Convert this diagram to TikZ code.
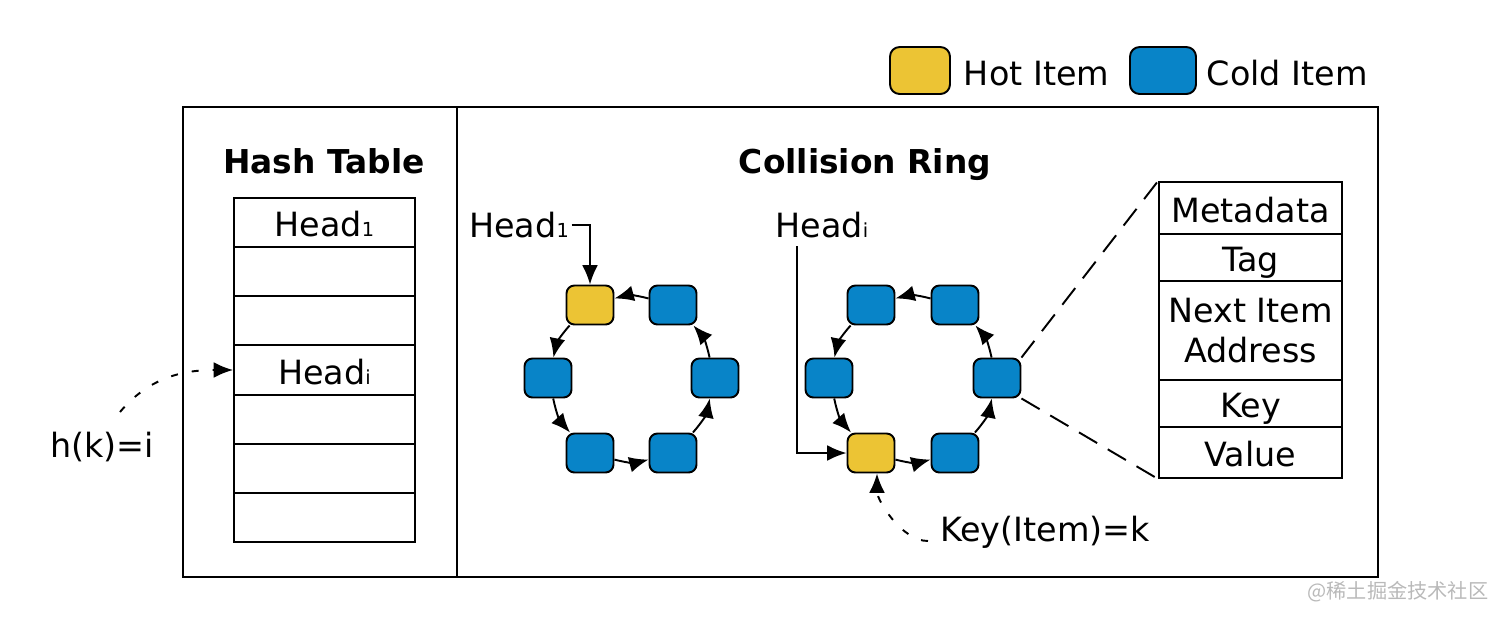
\documentclass[tikz,border=0pt]{standalone}
\usepackage{fontspec}
\setmainfont{DejaVu Sans}
\newfontfamily\cjkfont{Noto Sans CJK SC}
\usetikzlibrary{arrows.meta}
\definecolor{hotyellow}{RGB}{236,196,52}
\definecolor{coldblue}{RGB}{8,132,200}
\newcommand\figfont{\fontsize{19}{23}\selectfont}
\newcommand\hsub[1]{{\fontsize{11}{11}\selectfont #1}}
\tikzset{
  item/.style={draw, rounded corners=4.5pt, minimum width=0.94cm, minimum height=0.78cm, inner sep=0pt},
  hot/.style={item, fill=hotyellow},
  cold/.style={item, fill=coldblue},
  cell/.style={draw, inner sep=0pt, font=\figfont, align=center},
  onecell/.style={cell, text height=16pt, text depth=0pt},
  lbl/.style={anchor=base, font=\figfont, inner sep=1pt},
  paneltitle/.style={anchor=base, font=\bfseries\fontsize{18.7}{22}\selectfont},
  zoomdash/.style={dash pattern=on 12pt off 7pt},
  ptrdash/.style={dash pattern=on 4pt off 8pt}
}

\begin{document}
\begin{tikzpicture}[x=0.02cm, y=-0.02cm, line width=1.1pt, >={Latex[length=11pt,width=9pt]}]
\useasboundingbox (0,0) rectangle (1512,620);

\node[hot, minimum width=1.2cm, minimum height=0.94cm, rounded corners=5.5pt] (hotkey) at (920,70.5) {};
\node[anchor=base west, font=\figfont, inner sep=0pt] (hottxt) at (963,85) {Hot Item};
\node[cold, minimum width=1.32cm, minimum height=0.94cm, rounded corners=5.5pt] (coldkey) at (1163,70.5) {};
\node[anchor=base west, font=\figfont, inner sep=0pt] (coldtxt) at (1206,85) {Cold Item};

\draw (183,107) rectangle (1378,577);
\draw (457,107) -- (457,577);
\node[paneltitle] (httitle) at (324,173) {Hash Table};
\node[paneltitle] (crtitle) at (865,173) {Collision Ring};

\foreach \t [count=\i] in {Head\hsub{1},{},{},Head\hsub{i},{},{},{}}
  \node[onecell, minimum width=3.62cm, minimum height=0.983cm] (ht\i) at (324.5,{198+49.14*(\i-0.5)}) {\t};

\node[lbl] (hk) at (102,457) {h(k)=i};
\coordinate (hk0) at (120,412);
\draw[ptrdash,->] (hk0) to[out=50,in=180] (ht4.west);

\foreach \n/\x/\y/\s in {a1/590/305/hot, a2/673/305/cold, a3/715/378/cold, a4/673/453/cold, a5/590/453/cold, a6/548/378/cold,
                         b1/871/305/cold, b2/955/305/cold, b3/997/378/cold, b4/955/453/cold, b5/871/453/hot, b6/829/378/cold}
  \node[\s] (\n) at (\x,\y) {};
\foreach \p/\q in {a2/a1, a1/a6, a6/a5, a5/a4, a4/a3, a3/a2, b2/b1, b1/b6, b6/b5, b5/b4, b4/b3, b3/b2}
  \draw[->] (\p) to[bend right=15] (\q);

\node[lbl] (h1lbl) at (519,237) {Head\hsub{1}};
\draw[->] (h1lbl.east) -| (a1.north);
\node[lbl] (hilbl) at (822,237) {Head\hsub{i}};
\coordinate (hi0) at (797,246);
\draw[->] (hi0) |- (b5.west);

\node[lbl] (keylbl) at (1045,541) {Key(Item)=k};
\coordinate (key0) at (928,541);
\draw[ptrdash,->] (key0) to[out=180,in=-90,looseness=0.8] ([xshift=0.12cm]b5.south);

\foreach \n/\y/\h/\t in {f1/208/1.04/Metadata, f2/257.5/0.94/Tag, f4/403.5/0.94/Key, f5/452.5/1.02/Value}
  \node[onecell, minimum width=3.66cm, minimum height=\h cm] (\n) at (1250.5,\y) {\t};
\node[cell, minimum width=3.66cm, minimum height=1.98cm] (f3) at (1250.5,330.5) {Next Item\\Address};

\draw[zoomdash] (b3.north east) -- (f1.north west);
\draw[zoomdash] (b3.south east) -- (f5.south west);

\node[text=gray!55, font=\cjkfont\fontsize{11.5}{12}\selectfont] (mark) at (1398,592) {@稀土掘金技术社区};
\end{tikzpicture}
\end{document}
